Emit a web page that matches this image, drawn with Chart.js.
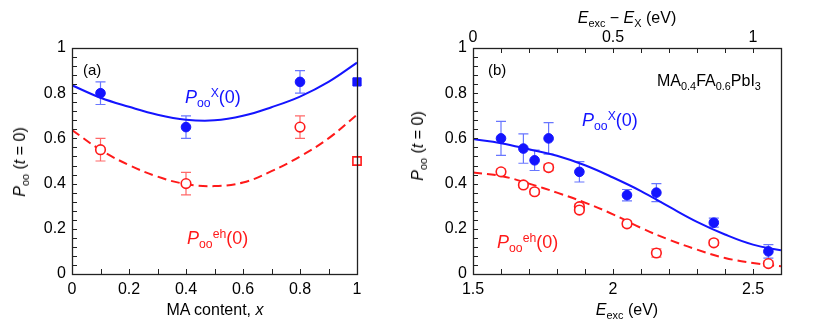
<!DOCTYPE html>
<html>
<head>
<meta charset="utf-8">
<script src="https://cdn.jsdelivr.net/npm/chart.js@4.4.1/dist/chart.umd.min.js"></script>
<style>
  body { margin: 0; background: #fff; }
  #wrap { position: relative; width: 814px; height: 325px; overflow: hidden; }
  canvas { position: absolute; top: 0; }
  .lab { position: absolute; font-family: "Liberation Sans", Arial, sans-serif; font-size: 16px; line-height: 1; white-space: nowrap; color: #000; }
  .sb { font-size: 0.68em; position: relative; top: 0.35em; }
  .sp { font-size: 0.68em; position: relative; top: -0.5em; }
  .blue { color: #1414ff; font-size: 18px; }
  .red { color: #ff1a1a; font-size: 18px; }
  .rot { transform: translate(-50%, -50%) rotate(-90deg); }
  .ctr { transform: translateX(-50%); }
</style>
</head>
<body>
<div id="wrap">
  <canvas id="chartA" width="400" height="325" style="left:0"></canvas>
  <canvas id="chartB" width="404" height="325" style="left:410px"></canvas>

  <!-- panel (a) texts -->
  <div class="lab" style="left:83px;top:62px;font-size:15px">(a)</div>
  <div class="lab blue" style="left:185px;top:88px"><i>P</i><span class="sb">oo</span><span class="sp">X</span>(0)</div>
  <div class="lab red" style="left:187px;top:229px"><i>P</i><span class="sb">oo</span><span class="sp">eh</span>(0)</div>
  <div class="lab ctr" style="left:215px;top:302px">MA content, <i>x</i></div>
  <div class="lab rot" style="left:20px;top:162px"><i>P</i><span class="sb">oo</span> (<i>t</i> = 0)</div>

  <!-- panel (b) texts -->
  <div class="lab" style="left:488px;top:62px;font-size:15px">(b)</div>
  <div class="lab" style="left:657px;top:73px">MA<span class="sb">0.4</span>FA<span class="sb">0.6</span>PbI<span class="sb">3</span></div>
  <div class="lab blue" style="left:582px;top:111px"><i>P</i><span class="sb">oo</span><span class="sp">X</span>(0)</div>
  <div class="lab red" style="left:497px;top:233px"><i>P</i><span class="sb">oo</span><span class="sp">eh</span>(0)</div>
  <div class="lab ctr" style="left:627px;top:302px"><i>E</i><span class="sb">exc</span> (eV)</div>
  <div class="lab ctr" style="left:627px;top:10px"><i>E</i><span class="sb">exc</span> &minus; <i>E</i><span class="sb">X</span> (eV)</div>
  <div class="lab rot" style="left:418px;top:146px"><i>P</i><span class="sb">oo</span> (<i>t</i> = 0)</div>
</div>

<script>
// ---- panel (a): vs MA content ----
const maContent = [0.1, 0.4, 0.8];
const excitonA = [0.80, 0.65, 0.85];
const excitonAErr = [0.05, 0.05, 0.05];
const ehA = [0.55, 0.40, 0.65];
const ehAErr = [0.05, 0.05, 0.05];
const maPure = [1];
const excitonPure = [0.85];
const ehPure = [0.50];
const fitAX = [0, 0.1, 0.2, 0.3, 0.4, 0.5, 0.6, 0.7, 0.8, 0.9, 1.0];
const fitExcitonA = [0.835, 0.78, 0.74, 0.705, 0.683, 0.68, 0.70, 0.738, 0.785, 0.85, 0.935];
const fitEhA = [0.637, 0.549, 0.482, 0.431, 0.398, 0.389, 0.405, 0.455, 0.52, 0.60, 0.705];

// ---- panel (b): vs excitation energy ----
const eExc = [1.60, 1.68, 1.72, 1.77, 1.88, 2.05, 2.155, 2.36, 2.555];
const excitonB = [0.60, 0.555, 0.503, 0.60, 0.452, 0.349, 0.36, 0.227, 0.10];
const excitonBErr = [0.075, 0.065, 0.045, 0.07, 0.045, 0.025, 0.04, 0.02, 0.03];
const eExcEh = [1.60, 1.68, 1.72, 1.77, 1.88, 1.88, 2.05, 2.155, 2.36, 2.555];
const ehB = [0.452, 0.394, 0.364, 0.471, 0.298, 0.283, 0.222, 0.093, 0.138, 0.046];
const ehBErr = [0.012, 0.012, 0.012, 0.014, 0.012, 0.012, 0.012, 0.018, 0.012, 0.012];
const fitBX = [1.5, 1.6, 1.7, 1.8, 1.9, 2.0, 2.1, 2.2, 2.3, 2.4, 2.5, 2.6];
const fitExcitonB = [0.597, 0.579, 0.552, 0.523, 0.481, 0.427, 0.367, 0.298, 0.231, 0.175, 0.13, 0.105];
const fitEhB = [0.449, 0.434, 0.40, 0.36, 0.316, 0.264, 0.204, 0.152, 0.108, 0.071, 0.049, 0.034];

// labelled ticks (the rest are unlabelled minor ticks)
const yTickLabels = [0, 0.2, 0.4, 0.6, 0.8, 1];
const maTickLabels = [0, 0.2, 0.4, 0.6, 0.8, 1];
const eTickLabels = [1.5, 2, 2.5];
const deltaTickLabels = [0, 0.5, 1];

const BLUE = '#1414ff';
const RED = '#ff1a1a';
const BLUE_ERR = 'rgba(40, 60, 255, 0.7)';
const RED_ERR = 'rgba(255, 40, 40, 0.7)';

Chart.defaults.font.family = '"Liberation Sans", Arial, sans-serif';
Chart.defaults.font.size = 16;
Chart.defaults.color = '#000';

function pts(xs, ys) {
    return xs.map((x, i) => ({ x: x, y: ys[i] }));
}

function labelOnly(list) {
    return function(value) {
        const hit = list.some(t => Math.abs(t - value) < 1e-6);
        return hit ? String(+value.toFixed(2)) : '';
    };
}

// inward tick marks + frame
const innerTicks = {
    id: 'innerTicks',
    afterDraw(chart) {
        const ctx = chart.ctx;
        const a = chart.chartArea;
        const len = 5;
        ctx.save();
        ctx.strokeStyle = '#222';
        ctx.lineWidth = 1;
        Object.values(chart.scales).forEach(s => {
            s.ticks.forEach(t => {
                const p = Math.round(s.getPixelForValue(t.value)) + 0.5;
                ctx.beginPath();
                if (s.position === 'left') {
                    ctx.moveTo(a.left, p); ctx.lineTo(a.left + len, p);
                } else if (s.position === 'bottom') {
                    ctx.moveTo(p, a.bottom); ctx.lineTo(p, a.bottom - len);
                } else if (s.position === 'top') {
                    ctx.moveTo(p, a.top); ctx.lineTo(p, a.top + len);
                }
                ctx.stroke();
            });
        });
        ctx.lineWidth = 1.3;
        ctx.strokeRect(Math.round(a.left) + 0.5, Math.round(a.top) + 0.5,
            Math.round(a.right - a.left), Math.round(a.bottom - a.top));
        ctx.restore();
    }
};

// vertical error bars with caps, from dataset.errors
const errorBars = {
    id: 'errorBars',
    beforeDatasetsDraw(chart) {
        const ctx = chart.ctx;
        const xs = chart.scales.x, ys = chart.scales.y;
        ctx.save();
        chart.data.datasets.forEach(ds => {
            if (!ds.errors) return;
            ctx.strokeStyle = ds.errorColor;
            ctx.lineWidth = 1.2;
            ds.data.forEach((d, i) => {
                const e = ds.errors[i];
                const px = xs.getPixelForValue(d.x);
                const top = ys.getPixelForValue(d.y + e);
                const bot = ys.getPixelForValue(d.y - e);
                ctx.beginPath();
                ctx.moveTo(px, top); ctx.lineTo(px, bot);
                ctx.moveTo(px - 5, top); ctx.lineTo(px + 5, top);
                ctx.moveTo(px - 5, bot); ctx.lineTo(px + 5, bot);
                ctx.stroke();
            });
        });
        ctx.restore();
    }
};

function fitLine(xs, ys, color, dashed) {
    return {
        type: 'line',
        data: pts(xs, ys),
        borderColor: color,
        borderWidth: 2,
        borderDash: dashed ? [9, 5] : [],
        pointRadius: 0,
        tension: 0.4,
        order: 2
    };
}

function markers(xs, ys, errs, color, errColor, filled, style) {
    return {
        type: 'scatter',
        data: pts(xs, ys),
        errors: errs,
        errorColor: errColor,
        pointStyle: style || 'circle',
        pointRadius: style === 'rect' ? 5.8 : 4.8,
        pointBackgroundColor: filled ? color : '#fff',
        pointBorderColor: color,
        pointBorderWidth: filled ? 1 : 1.6,
        clip: false,
        order: 1
    };
}

function yAxis(width) {
    return {
        type: 'linear',
        position: 'left',
        min: 0,
        max: 1,
        grid: { display: false, drawTicks: false },
        border: { display: false },
        ticks: {
            stepSize: 0.04,
            autoSkip: false,
            padding: 6,
            maxRotation: 0,
            callback: labelOnly(yTickLabels)
        },
        afterFit(scale) { scale.width = width; }
    };
}

const common = {
    responsive: false,
    animation: false,
    plugins: { legend: { display: false }, tooltip: { enabled: false } }
};

new Chart(document.getElementById('chartA'), {
    data: {
        datasets: [
            markers(maContent, excitonA, excitonAErr, BLUE, BLUE_ERR, true),
            markers(maPure, excitonPure, null, BLUE, BLUE_ERR, true, 'rect'),
            markers(maContent, ehA, ehAErr, RED, RED_ERR, false),
            markers(maPure, ehPure, null, RED, RED_ERR, false, 'rect'),
            fitLine(fitAX, fitExcitonA, BLUE, false),
            fitLine(fitAX, fitEhA, RED, true)
        ]
    },
    options: Object.assign({}, common, {
        layout: { padding: { top: 48, right: 43, left: 0, bottom: 0 } },
        scales: {
            x: {
                type: 'linear',
                position: 'bottom',
                min: 0,
                max: 1,
                grid: { display: false, drawTicks: false },
                border: { display: false },
                ticks: {
                    stepSize: 0.1,
                    autoSkip: false,
                    padding: 6,
                    maxRotation: 0,
                    callback: labelOnly(maTickLabels)
                },
                afterFit(scale) { scale.height = 51; }
            },
            y: yAxis(72)
        }
    }),
    plugins: [errorBars, innerTicks]
});

new Chart(document.getElementById('chartB'), {
    data: {
        datasets: [
            markers(eExc, excitonB, excitonBErr, BLUE, BLUE_ERR, true),
            markers(eExcEh, ehB, ehBErr, RED, RED_ERR, false),
            fitLine(fitBX, fitExcitonB, BLUE, false),
            fitLine(fitBX, fitEhB, RED, true)
        ]
    },
    options: Object.assign({}, common, {
        layout: { padding: { top: 0, right: 33, left: 0, bottom: 0 } },
        scales: {
            x: {
                type: 'linear',
                position: 'bottom',
                min: 1.5,
                max: 2.6,
                grid: { display: false, drawTicks: false },
                border: { display: false },
                ticks: {
                    stepSize: 0.1,
                    autoSkip: false,
                    padding: 6,
                    maxRotation: 0,
                    callback: labelOnly(eTickLabels)
                },
                afterFit(scale) { scale.height = 51; }
            },
            x2: {
                type: 'linear',
                position: 'top',
                min: 0,
                max: 1.1,
                grid: { display: false, drawTicks: false },
                border: { display: false },
                ticks: {
                    stepSize: 0.1,
                    autoSkip: false,
                    padding: 1,
                    maxRotation: 0,
                    callback: labelOnly(deltaTickLabels)
                },
                afterFit(scale) { scale.height = 48; }
            },
            y: yAxis(63)
        }
    }),
    plugins: [errorBars, innerTicks]
});
</script>
</body>
</html>
